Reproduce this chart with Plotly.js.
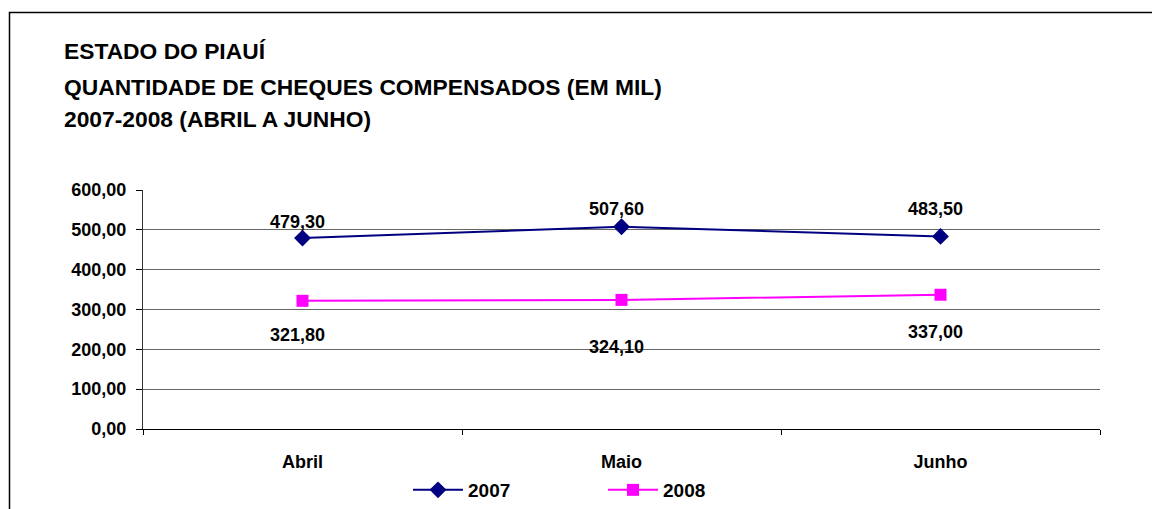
<!DOCTYPE html>
<html>
<head>
<meta charset="utf-8">
<script src="https://cdn.plot.ly/plotly-3.0.1.min.js"></script>
<style>html,body{margin:0;padding:0;background:#fff;}#chart{width:1152px;height:509px;}</style>
</head>
<body>
<div id="chart"></div>
<script>
// ---- data ----
const categories = ["Abril", "Maio", "Junho"];
const series2007 = [479.30, 507.60, 483.50];
const series2008 = [321.80, 324.10, 337.00];
const seriesNames = ["2007", "2008"];
const titleLines = [
  "ESTADO DO PIAUÍ",
  "QUANTIDADE DE CHEQUES COMPENSADOS (EM MIL)",
  "2007-2008 (ABRIL A JUNHO)"
];
const yTickValues = [0, 100, 200, 300, 400, 500, 600];

// ---- style / layout constants ----
const FONT = "Liberation Sans, Arial, sans-serif";
const labelShift2007 = [16, 18, 27];
const labelShift2008 = [-34, -47, -37];

function fmt(v) { return v.toFixed(2).replace('.', ','); }

const traces = [
  {
    x: categories, y: series2007, name: seriesNames[0],
    type: 'scatter', mode: 'lines+markers',
    line: {color: '#000080', width: 2},
    marker: {symbol: 'diamond', size: 13, color: '#000080'}
  },
  {
    x: categories, y: series2008, name: seriesNames[1],
    type: 'scatter', mode: 'lines+markers',
    line: {color: '#FF00FF', width: 2},
    marker: {symbol: 'square', size: 12, color: '#FF00FF'}
  }
];

const annotations = [];
titleLines.forEach((t, i) => {
  annotations.push({
    text: '<b>' + t + '</b>', xref: 'paper', yref: 'paper',
    x: (62 - 143) / 957, y: (429 - [51, 87, 119][i]) / 239,
    xanchor: 'left', yanchor: 'middle', showarrow: false,
    font: {family: FONT, size: 22.8, color: '#000'}
  });
});
categories.forEach((c, i) => {
  annotations.push({
    x: c, y: series2007[i], text: '<b>' + fmt(series2007[i]) + '</b>',
    showarrow: false, yshift: labelShift2007[i], xshift: -5,
    font: {family: FONT, size: 18, color: '#000'}
  });
  annotations.push({
    x: c, y: series2008[i], text: '<b>' + fmt(series2008[i]) + '</b>',
    showarrow: false, yshift: labelShift2008[i], xshift: -5,
    font: {family: FONT, size: 18, color: '#000'}
  });
});

const layout = {
  width: 1152, height: 509,
  margin: {l: 143, r: 52, t: 190, b: 80},
  paper_bgcolor: '#fff', plot_bgcolor: '#fff',
  separators: ',.',
  font: {family: FONT, size: 18, color: '#000'},
  showlegend: true,
  legend: {
    orientation: 'h', xref: 'container', yref: 'container',
    x: 408 / 1152, xanchor: 'left', y: 1 - 490 / 509, yanchor: 'middle',
    font: {family: FONT, size: 19, color: '#000', weight: 'bold'},
    entrywidth: 130, entrywidthmode: 'pixels', itemwidth: 50
  },
  xaxis: {
    type: 'category', tickson: 'boundaries', ticks: 'outside', ticklen: 5,
    tickcolor: '#000', showline: true, linecolor: '#000', linewidth: 1,
    showgrid: false, zeroline: false,
    tickfont: {family: FONT, size: 18, color: '#000', weight: 'bold'},
    ticklabelstandoff: 16, range: [-0.5, 2.5], fixedrange: true
  },
  yaxis: {
    range: [0, 600], tickvals: yTickValues, tickformat: '.2f',
    ticks: 'outside', ticklen: 6, tickcolor: '#000',
    showline: true, linecolor: '#333', linewidth: 1,
    showgrid: true, gridcolor: '#666', gridwidth: 1, zeroline: false,
    tickfont: {family: FONT, size: 18, color: '#000', weight: 'bold'},
    ticklabelstandoff: 6, fixedrange: true
  },
  annotations: annotations,
  shapes: [{
    type: 'rect', xref: 'paper', yref: 'paper', layer: 'below',
    x0: (9.5 - 143) / 957, x1: 1.3, y0: -1, y1: (429 - 12.5) / 239,
    line: {color: '#000', width: 1.5}, fillcolor: 'rgba(0,0,0,0)'
  }]
};

Plotly.newPlot('chart', traces, layout, {displayModeBar: false, staticPlot: true});
</script>
</body>
</html>
